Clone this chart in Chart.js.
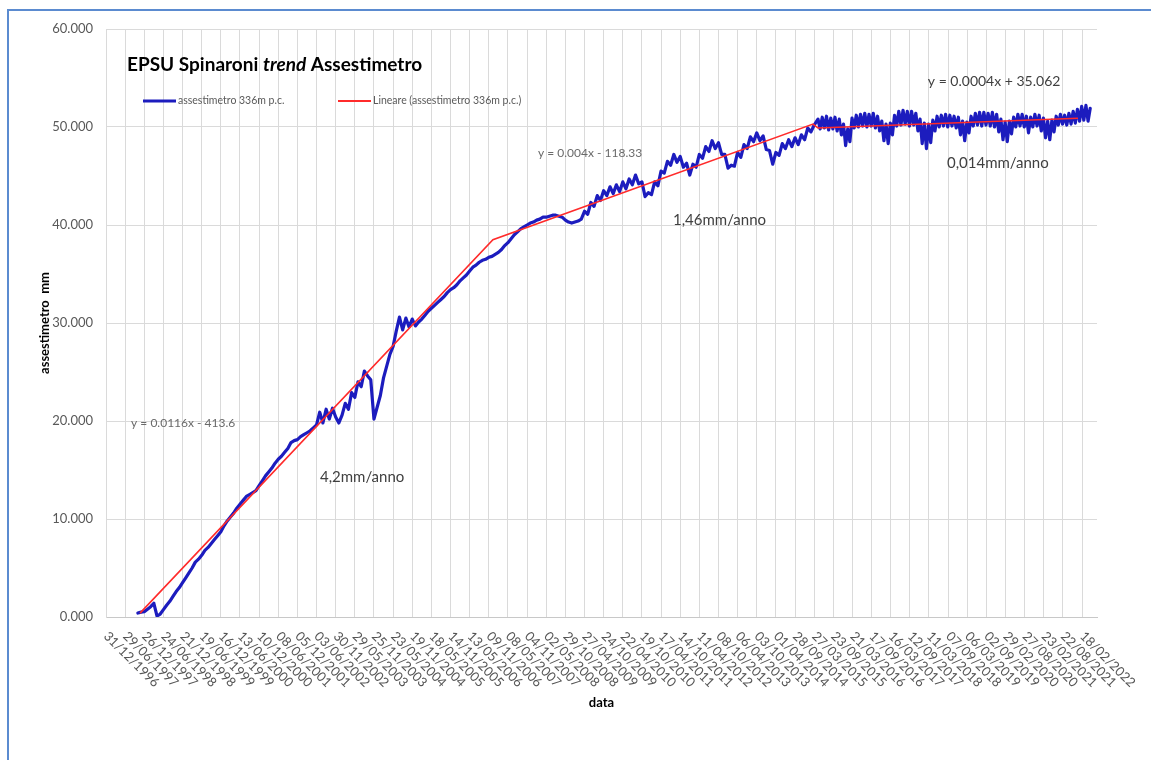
<!DOCTYPE html>
<html lang="it">
<head>
<meta charset="UTF-8" />
<title>EPSU Spinaroni trend Assestimetro</title>
<script src="https://cdn.jsdelivr.net/npm/chart.js"></script>
<style>
  html, body { margin: 0; padding: 0; background: #fff; overflow: hidden; }
  #wrap { position: relative; width: 1151px; height: 760px; overflow: hidden; }
  #frame { position: absolute; left: 7px; top: 9px; width: 1200px; height: 800px; border-left: 2px solid #5b8bd0; border-top: 2px solid #5b8bd0; }
  canvas { position: absolute; left: 0; top: 0; }
</style>
</head>
<body>
<div id="wrap">
  <div id="frame"></div>
  <canvas id="assestChart" width="1151" height="760"></canvas>
</div>

<script>
  // date axis like in Excel: one tick every 180 days starting from 31/12/1996
  const axisStart = Date.UTC(1996, 11, 31);
  const tickStepDays = 180;
  const axisEndDays = 9320;
  const dateTicks = [
    '31/12/1996', '29/06/1997', '26/12/1997', '24/06/1998', '21/12/1998', '19/06/1999', '16/12/1999',
    '13/06/2000', '10/12/2000', '08/06/2001', '05/12/2001', '03/06/2002', '30/11/2002', '29/05/2003',
    '25/11/2003', '23/05/2004', '19/11/2004', '18/05/2005', '14/11/2005', '13/05/2006', '09/11/2006',
    '08/05/2007', '04/11/2007', '02/05/2008', '29/10/2008', '27/04/2009', '24/10/2009', '22/04/2010',
    '19/10/2010', '17/04/2011', '14/10/2011', '11/04/2012', '08/10/2012', '06/04/2013', '03/10/2013',
    '01/04/2014', '28/09/2014', '27/03/2015', '23/09/2015', '21/03/2016', '17/09/2016', '16/03/2017',
    '12/09/2017', '11/03/2018', '07/09/2018', '06/03/2019', '02/09/2019', '29/02/2020', '27/08/2020',
    '23/02/2021', '22/08/2021', '18/02/2022'
  ];

  // assestimetro 336m p.c. (mm) - one reading every 30 days from 27/10/1997 to spring 2015
  const assestStart1 = '1997-10-27';
  const assestStep1 = 30;
  const assestVals1 = [
    0.4, 0.5, 0.55, 0.8, 1.05, 1.4, 0.1, 0.3, 0.75, 1.2,
    1.6, 2.1, 2.6, 3.0, 3.5, 4.0, 4.5, 5.0, 5.6, 5.9,
    6.3, 6.8, 7.1, 7.5, 7.9, 8.3, 8.7, 9.3, 9.8, 10.2,
    10.6, 11.1, 11.5, 11.9, 12.3, 12.5, 12.7, 12.9, 13.4, 13.9,
    14.4, 14.8, 15.2, 15.7, 16.1, 16.4, 16.8, 17.2, 17.8, 18.0,
    18.1, 18.4, 18.6, 18.8, 19.0, 19.3, 19.6, 20.9, 19.8, 21.2,
    20.2, 21.3, 20.4, 19.8, 20.6, 21.8, 21.2, 22.9, 22.4, 24.0,
    23.5, 25.1, 24.6, 24.2, 20.2, 21.4, 22.6, 24.4, 25.6, 26.8,
    27.6, 29.2, 30.6, 29.3, 30.5, 29.6, 30.4, 29.7, 30.1, 30.4,
    30.8, 31.2, 31.5, 31.8, 32.1, 32.4, 32.7, 33.1, 33.4, 33.6,
    33.9, 34.3, 34.6, 34.9, 35.3, 35.7, 35.9, 36.2, 36.4, 36.5,
    36.7, 36.8, 37.0, 37.2, 37.5, 37.9, 38.2, 38.6, 39.0, 39.3,
    39.6, 39.8, 40.0, 40.2, 40.3, 40.5, 40.6, 40.8, 40.8, 40.9,
    41.0, 41.0, 40.9, 40.8, 40.5, 40.3, 40.2, 40.3, 40.4, 40.6,
    41.4, 41.1, 42.3, 41.9, 43.0, 42.5, 43.5, 43.0, 43.9, 43.2,
    44.1, 43.4, 44.4, 43.7, 44.7, 44.1, 45.1, 44.2, 44.4, 42.9,
    43.3, 43.1, 44.4, 44.0, 45.5, 45.3, 46.5, 46.1, 47.2, 46.4,
    47.0, 45.9, 46.3, 45.1, 46.2, 45.9, 47.2, 46.8, 48.0, 47.5,
    48.6, 47.8, 48.4, 47.2, 47.2, 45.8, 46.1, 46.0, 47.4, 46.9,
    48.2, 47.8, 49.0, 48.5, 49.4, 48.6, 49.1, 47.7, 47.6, 46.2,
    47.4, 47.1, 48.3, 47.8, 48.7, 48.0, 48.9, 48.2, 49.2, 48.7,
    49.9, 49.5, 50.2
  ];

  // from 02/05/2015 the record is dense with seasonal swings: one reading every 20 days
  const assestStart2 = '2015-05-02';
  const assestStep2 = 20;
  const assestVals2 = [
    50.8, 49.8, 51.0, 49.9, 51.1, 49.7, 50.9, 49.8, 51.0, 49.6,
    50.8, 49.2, 50.3, 48.1, 49.8, 48.5, 50.9, 49.9, 51.2, 50.0,
    51.3, 50.1, 51.4, 50.0, 51.3, 50.1, 51.4, 49.9, 51.1, 49.6,
    50.6, 48.6, 50.3, 48.3, 50.4, 49.2, 51.2, 50.1, 51.6, 50.2,
    51.7, 50.3, 51.6, 50.1, 51.6, 50.2, 51.4, 49.6, 50.8, 48.3,
    50.4, 47.8, 50.3, 48.4, 50.7, 49.6, 51.1, 50.0, 51.2, 50.1,
    51.3, 50.0, 51.2, 50.1, 51.1, 49.9, 51.0, 49.2, 50.6, 48.6,
    50.5, 49.4, 51.1, 50.1, 51.4, 50.2, 51.5, 50.1, 51.5, 50.2,
    51.4, 50.1, 51.5, 50.0, 51.3, 49.5, 50.8, 48.7, 50.5, 48.5,
    50.6, 49.3, 51.0, 50.0, 51.3, 50.1, 51.3, 50.0, 51.1, 49.4,
    51.0, 50.0, 51.3, 50.1, 51.2, 49.6, 50.9, 48.9, 50.6, 48.7,
    50.7, 49.5, 51.1, 50.2, 51.3, 50.3, 51.2, 50.2, 51.4, 50.3,
    51.6, 50.4, 51.8, 50.6, 52.1, 50.7, 52.2, 50.6, 51.9
  ];

  // linear trends of the three periods
  const trendDates = ['1997-11-16', '2006-12-18', '2015-03-16', '2015-05-02', '2022-01-10'];
  const trendVals = [0.4, 38.5, 50.3, 49.9, 50.9];

  // trend equations and rates written on the plot (date, value of the left/middle of the text)
  const noteTexts = ['y = 0.0116x - 413.6', '4,2mm/anno', 'y = 0.004x - 118.33', '1,46mm/anno', 'y = 0.0004x + 35.062', '0,014mm/anno'];
  const noteDates = ['1997-08-24', '2002-07-05', '2008-02-15', '2011-08-07', '2018-02-28', '2018-08-27'];
  const noteVals = [19.8, 14.3, 47.3, 40.5, 54.6, 46.3];

  function dayOf(iso) {
    const p = iso.split('-').map(Number);
    return (Date.UTC(p[0], p[1] - 1, p[2]) - axisStart) / 86400000;
  }

  const assestPoints = [];
  assestVals1.forEach((v, i) => assestPoints.push({ x: dayOf(assestStart1) + i * assestStep1, y: v }));
  assestVals2.forEach((v, i) => assestPoints.push({ x: dayOf(assestStart2) + i * assestStep2, y: v }));
  const trendPoints = trendDates.map((d, i) => ({ x: dayOf(d), y: trendVals[i] }));

  Chart.defaults.font.family = 'Lato, "Open Sans", sans-serif';

  // title, legend, notes and the slanted date labels, drawn the Excel way
  const excelDecor = {
    id: 'excelDecor',
    afterDraw(chart) {
      const { ctx, scales: { x, y } } = chart;
      ctx.save();

      // date labels, rotated clockwise and starting at the tick
      ctx.font = '13px Lato';
      ctx.fillStyle = '#555';
      ctx.textAlign = 'left';
      ctx.textBaseline = 'middle';
      dateTicks.forEach((label, i) => {
        const px = x.getPixelForValue(i * tickStepDays);
        ctx.save();
        ctx.translate(px, y.bottom + 17);
        ctx.rotate(Math.PI / 4);
        ctx.fillText(label, 0, 0);
        ctx.restore();
      });

      // title
      ctx.fillStyle = '#000';
      ctx.textBaseline = 'alphabetic';
      let tx = 127;
      [['EPSU Spinaroni ', 'bold 19px Lato'], ['trend', 'italic bold 19px Lato'], [' Assestimetro', 'bold 19px Lato']]
        .forEach(([t, f]) => { ctx.font = f; ctx.fillText(t, tx, 71); tx += ctx.measureText(t).width; });

      // legend
      ctx.textBaseline = 'middle';
      ctx.font = '10.5px Lato';
      const blue = chart.data.datasets[1], red = chart.data.datasets[0];
      [[blue, 143, 3], [red, 338, 2]].forEach(([ds, lx, lw]) => {
        ctx.strokeStyle = ds.borderColor;
        ctx.lineWidth = lw;
        ctx.beginPath();
        ctx.moveTo(lx, 101);
        ctx.lineTo(lx + 33, 101);
        ctx.stroke();
        ctx.fillStyle = '#595959';
        ctx.fillText(ds.label, lx + 35, 101);
      });

      // trend notes
      noteTexts.forEach((t, i) => {
        const isRate = t.indexOf('anno') > 0;
        ctx.font = isRate ? '15px Lato' : (i === 4 ? '14px Lato' : '12px Lato');
        ctx.fillStyle = isRate || i === 4 ? '#404040' : '#6a6a6a';
        ctx.fillText(t, x.getPixelForValue(dayOf(noteDates[i])), y.getPixelForValue(noteVals[i]));
      });
      ctx.restore();
    }
  };

  const ctx = document.getElementById('assestChart').getContext('2d');
  const assestChart = new Chart(ctx, {
    type: 'line',
    data: {
      datasets: [
        {
          label: 'Lineare (assestimetro 336m p.c.)',
          data: trendPoints,
          borderColor: '#ff2b2b',
          borderWidth: 1.6,
          pointRadius: 0,
          order: 0
        },
        {
          label: 'assestimetro 336m p.c.',
          data: assestPoints,
          borderColor: '#1c1cbe',
          borderWidth: 3.2,
          borderJoinStyle: 'round',
          borderCapStyle: 'round',
          pointRadius: 0,
          order: 1
        }
      ]
    },
    options: {
      responsive: false,
      animation: false,
      layout: { padding: { left: 10, right: 54, top: 29, bottom: 0 } },
      plugins: { legend: { display: false }, tooltip: { enabled: false } },
      scales: {
        x: {
          type: 'linear',
          min: 0,
          max: axisEndDays,
          afterBuildTicks: s => { s.ticks = dateTicks.map((t, i) => ({ value: i * tickStepDays })); },
          afterFit: s => { s.height = 143; },
          ticks: { display: false },
          grid: { color: '#dadada', drawTicks: false },
          border: { color: '#c8c8c8' },
          title: { display: true, text: 'data', color: '#000', font: { size: 13, weight: 'bold' }, padding: { top: 0, bottom: 49 } }
        },
        y: {
          min: 0,
          max: 60,
          afterFit: s => { s.width = 96; },
          ticks: { stepSize: 10, padding: 13, color: '#595959', font: { size: 13 }, callback: v => v.toFixed(3) },
          grid: { color: '#dadada', drawTicks: false },
          border: { color: '#dadada' },
          title: { display: true, text: 'assestimetro  mm', color: '#000', font: { size: 13, weight: 'bold' }, padding: { top: 27, bottom: 0 } }
        }
      }
    },
    plugins: [excelDecor]
  });
</script>
</body>
</html>
